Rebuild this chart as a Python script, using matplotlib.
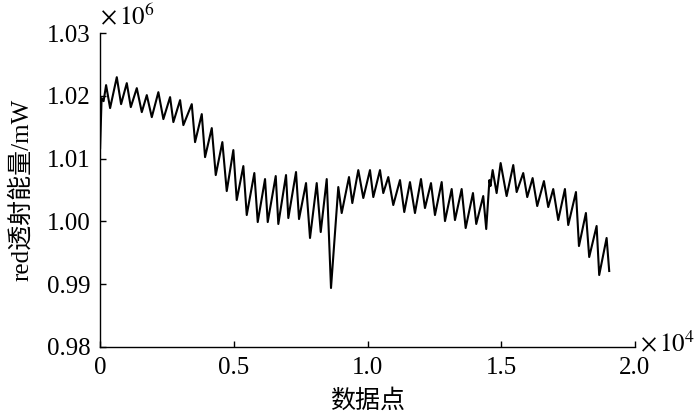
import numpy as np
import matplotlib
matplotlib.use("Agg")
import matplotlib.pyplot as plt
from matplotlib.ticker import FuncFormatter

plt.rcParams['font.family'] = ['Liberation Serif', 'Noto Sans CJK SC', 'DejaVu Sans']
plt.rcParams['mathtext.fontset'] = 'stix'

# sample index (data points) at the turning points of the trace
sample_idx = [
    0, 56, 131, 224, 374, 624, 785, 998, 1148, 1372, 1559, 1746, 1933, 2179,
    2366, 2617, 2740, 2991, 3114, 3428, 3551, 3802, 3925, 4176, 4325, 4572, 4736,
    4983, 5110, 5357, 5484, 5768, 5895, 6168, 6269, 6568, 6665, 6953, 7039,
    7327, 7439, 7701, 7850, 8101, 8251, 8475, 8635, 8908, 9035, 9308, 9432, 9656,
    9843, 10093, 10217, 10467, 10590, 10778, 10964, 11215, 11375, 11588, 11775,
    12000, 12149, 12374, 12523, 12774, 12898, 13148, 13271, 13521, 13671, 13944,
    14067, 14328, 14440,
    14560, 14598, 14680, 14829, 14979, 15203, 15451, 15578, 15824, 15974, 16175,
    16347, 16598, 16759, 16946, 17133, 17383, 17507, 17796, 17908, 18168, 18291,
    18568, 18665, 18942, 19039,
]

# red transmitted power, in units of 1e6 mW
red_power = [
    1.01169, 1.01965, 1.01917, 1.02172, 1.01806, 1.02299, 1.01869, 1.02204,
    1.01822, 1.02124, 1.01742, 1.02013, 1.01662, 1.02060, 1.01631, 1.01981,
    1.01583, 1.01933, 1.01535, 1.01869, 1.01264, 1.01710, 1.01025, 1.01487,
    1.00739, 1.01264, 1.00484,
    1.01137, 1.00341, 1.00882, 1.00102, 1.00771, 0.99990, 1.00675, 0.99990,
    1.00723, 0.99959, 1.00739, 1.00054, 1.00787, 1.00038, 1.00611, 0.99736,
    1.00611, 0.99831, 1.00675, 0.98939, 1.00548, 1.00134, 1.00707, 1.00293,
    1.00818,
    1.00373, 1.00818, 1.00388, 1.00818, 1.00452, 1.00707, 1.00261, 1.00659,
    1.00150, 1.00627, 1.00134, 1.00675, 1.00213, 1.00611, 1.00102, 1.00627,
    1.00006, 1.00516, 1.00022, 1.00516, 0.99895, 1.00452, 0.99959, 1.00404,
    0.99879,
    1.00659, 1.00564, 1.00818, 1.00452, 1.00930, 1.00404, 1.00898, 1.00468,
    1.00771, 1.00388, 1.00691, 1.00245, 1.00643, 1.00229, 1.00516, 1.00022,
    1.00516, 0.99943, 1.00468, 0.99608, 1.00134, 0.99433, 0.99927, 0.99146,
    0.99736, 0.99210,
]

y_ticks = [0.98, 0.99, 1.00, 1.01, 1.02, 1.03]
x_ticks = [0, 0.5, 1.0, 1.5, 2.0]

x = np.array(sample_idx)
y = np.array(red_power) * 1e6

fig = plt.figure(figsize=(7, 4.2), dpi=100)
ax = fig.add_axes([0.143, 0.174, 0.764, 0.747])
ax.plot(x, y, color='black', linewidth=1.5)

ax.set_xlim(0, 2.0e4)
ax.set_ylim(0.98e6, 1.03e6)
ax.set_xticks([t * 1e4 for t in x_ticks])
ax.set_yticks([t * 1e6 for t in y_ticks])
ax.xaxis.set_major_formatter(FuncFormatter(lambda v, p: "0" if v == 0 else f"{v / 1e4:.1f}"))
ax.yaxis.set_major_formatter(FuncFormatter(lambda v, p: f"{v / 1e6:.2f}"))

for side in ['top', 'right']:
    ax.spines[side].set_visible(False)
for side in ['left', 'bottom']:
    ax.spines[side].set_linewidth(1.0)
ax.tick_params(direction='in', length=4, width=1.0, labelsize=18, pad=7)

ax.text(0.0, 1.012, r'$\times\,10^{6}$', transform=ax.transAxes,
        ha='left', va='bottom', fontsize=18)
ax.text(1.01, 0.01, r'$\times\,10^{4}$', transform=ax.transAxes,
        ha='left', va='center', fontsize=18)

ax.set_xlabel('数据点', fontsize=18)
ax.set_ylabel('red透射能量/mW', fontsize=18)
ax.xaxis.set_label_coords(0.5, -0.135)
ax.yaxis.set_label_coords(-0.125, 0.5)

fig.savefig('out.png', dpi=100)
